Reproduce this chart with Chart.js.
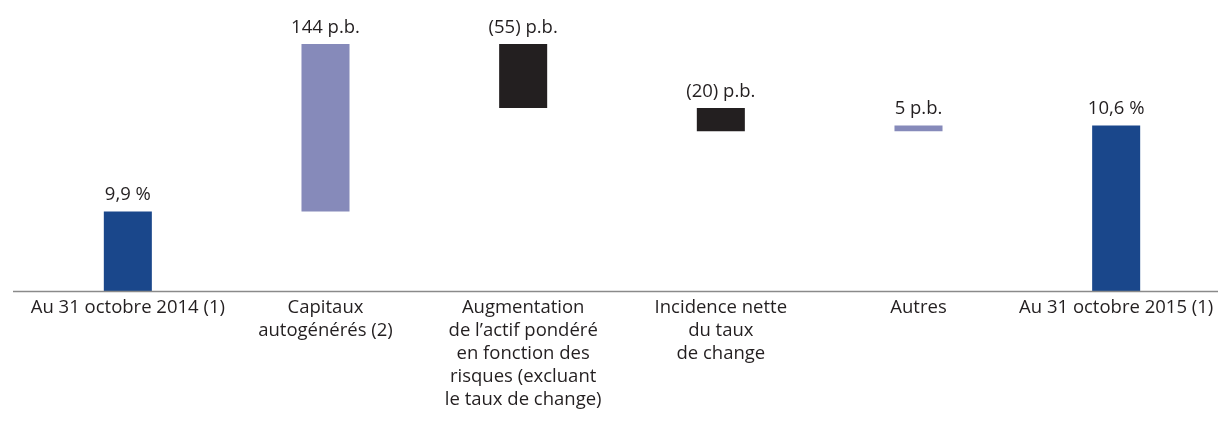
<!DOCTYPE html>
<html>
<head>
<meta charset="utf-8">
<script src="https://cdn.jsdelivr.net/npm/chart.js@4"></script>
<style>
html,body{margin:0;padding:0;background:#fff;}
#wrap{width:1218px;height:423px;}
</style>
</head>
<body>
<div id="wrap"><canvas id="c" width="1218" height="423"></canvas></div>
<script>
// ---- data ----
const categories = [
  ["Au 31 octobre 2014 (1)"],
  ["Capitaux", "autogénérés (2)"],
  ["Augmentation", "de l’actif pondéré", "en fonction des", "risques (excluant", "le taux de change)"],
  ["Incidence nette", "du taux", "de change"],
  ["Autres"],
  ["Au 31 octobre 2015 (1)"]
];
const startRatio = 9.9;          // %
const changesBp = [144, -55, -20, 5]; // points de base
const endRatio = 10.64;          // %
const valueLabels = ["9,9 %", "144 p.b.", "(55) p.b.", "(20) p.b.", "5 p.b.", "10,6 %"];
const barKinds = ["total", "up", "down", "down", "up", "total"];

// ---- build floating bars ----
const axisMin = 9.215;
const axisMax = 11.719;
const floating = [];
floating.push([axisMin, startRatio]);
let level = startRatio;
changesBp.forEach(bp => {
  const next = level + bp / 100;
  floating.push([Math.min(level, next), Math.max(level, next)]);
  level = next;
});
floating.push([axisMin, endRatio]);

const kindColor = {total: "#1a478b", up: "#868aba", down: "#231f20"};
const colors = barKinds.map(k => kindColor[k]);

const FONT = "'Open Sans', sans-serif";

const valueLabelPlugin = {
  id: "valueLabels",
  afterDatasetsDraw(chart) {
    const ctx = chart.ctx;
    const meta = chart.getDatasetMeta(0);
    ctx.save();
    ctx.font = "18.5px " + FONT;
    ctx.fillStyle = "#231f20";
    ctx.textAlign = "center";
    ctx.textBaseline = "alphabetic";
    meta.data.forEach((bar, i) => {
      const top = Math.min(bar.y, bar.base);
      ctx.fillText(valueLabels[i], bar.x, top - 11);
    });
    ctx.restore();
  }
};

const baselinePlugin = {
  id: "baseline",
  afterDatasetsDraw(chart) {
    const ctx = chart.ctx;
    const y = chart.chartArea.bottom + 0.5;
    ctx.save();
    ctx.strokeStyle = "#8a8a8a";
    ctx.lineWidth = 1.5;
    ctx.beginPath();
    ctx.moveTo(13, y);
    ctx.lineTo(1218, y);
    ctx.stroke();
    ctx.restore();
  }
};

new Chart(document.getElementById("c"), {
  type: "bar",
  data: {
    labels: categories,
    datasets: [{
      data: floating,
      backgroundColor: colors,
      borderWidth: 0,
      barPercentage: 0.243,
      categoryPercentage: 1.0
    }]
  },
  options: {
    responsive: false,
    animation: false,
    layout: {padding: {left: 29, right: 3, top: 0, bottom: 0}},
    plugins: {legend: {display: false}, tooltip: {enabled: false}},
    scales: {
      x: {
        offset: true,
        grid: {display: false, drawTicks: false},
        border: {display: false},
        ticks: {
          autoSkip: false,
          maxRotation: 0,
          minRotation: 0,
          padding: 5,
          color: "#231f20",
          font: {family: FONT, size: 18.5, lineHeight: 1.25}
        },
        afterFit(scale) {
          scale.height = 132;
          scale.paddingLeft = 0;
          scale.paddingRight = 0;
        }
      },
      y: {
        display: false,
        min: axisMin,
        max: axisMax
      }
    }
  },
  plugins: [valueLabelPlugin, baselinePlugin]
});
</script>
</body>
</html>
